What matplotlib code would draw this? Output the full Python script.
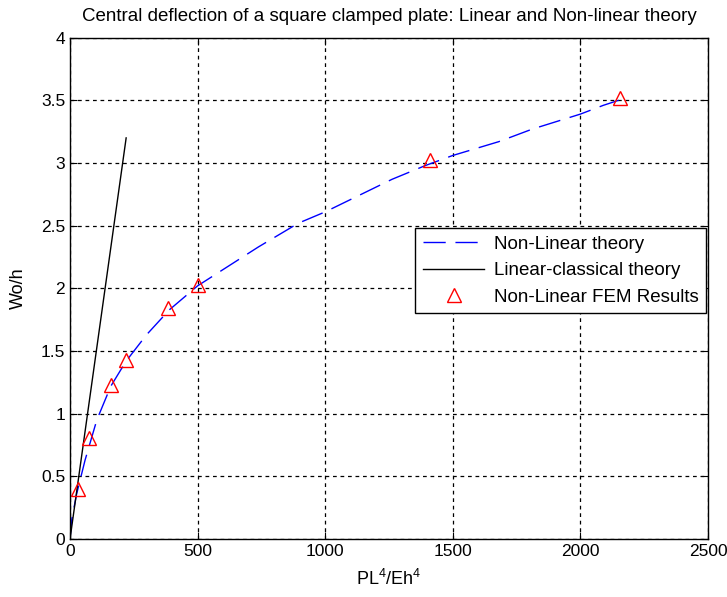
import matplotlib
matplotlib.use('Agg')
import matplotlib.pyplot as plt

plt.rcParams['font.family'] = ['Liberation Sans', 'DejaVu Sans']
plt.rcParams['mathtext.default'] = 'regular'

# non-linear theory curve
nl_x = [0, 7, 26, 59, 105, 160, 220, 300, 390, 500, 738, 895, 1000, 1262, 1393, 1500, 1680, 1811, 2000, 2090, 2150]
nl_y = [0, 0.16, 0.36, 0.63, 0.95, 1.22, 1.42, 1.63, 1.83, 2.02, 2.33, 2.52, 2.61, 2.87, 2.98, 3.06, 3.17, 3.27, 3.39, 3.46, 3.5]

# linear classical theory
lin_x = [0, 220]
lin_y = [0, 3.2]

# FEM results
fem_x = [31, 76, 161, 219, 385, 500, 1410, 2155]
fem_y = [0.40, 0.81, 1.23, 1.43, 1.84, 2.03, 3.02, 3.52]

fig = plt.figure(figsize=(7.27, 5.97), dpi=100)
ax = fig.add_axes([0.0963, 0.097, 0.8776, 0.84])

ax.plot(nl_x, nl_y, color='blue', lw=1, dashes=(16, 7), label='Non-Linear theory')
ax.plot(lin_x, lin_y, color='black', lw=1, label='Linear-classical theory')
ax.plot(fem_x, fem_y, linestyle='none', marker='^', markersize=10, markerfacecolor='none',
        markeredgecolor='red', markeredgewidth=1, label='Non-Linear FEM Results')

ax.set_xlim(0, 2500)
ax.set_ylim(0, 4)
ax.set_xticks([0, 500, 1000, 1500, 2000, 2500])
ax.set_yticks([0, 0.5, 1, 1.5, 2, 2.5, 3, 3.5, 4])
ax.set_yticklabels(['0', '0.5', '1', '1.5', '2', '2.5', '3', '3.5', '4'])
ax.grid(True, color='black', linestyle=(0, (3, 3)), lw=0.9)
ax.tick_params(direction='in', top=True, right=True, labelsize=12.5, length=5)
for s in ax.spines.values():
    s.set_linewidth(1)

ax.set_xlabel('PL$^4$/Eh$^4$', fontsize=13, labelpad=7)
ax.set_ylabel('Wo/h', fontsize=13, labelpad=10)
ax.set_title('Central deflection of a square clamped plate: Linear and Non-linear theory',
             fontsize=13.5, pad=12)

leg = ax.legend(loc='upper right', bbox_to_anchor=(0.997, 0.62), borderaxespad=0,
                fontsize=13.5, fancybox=False, edgecolor='black', framealpha=1,
                handlelength=3.3, handletextpad=0.5, labelspacing=0.5)
leg.get_frame().set_linewidth(1)

fig.savefig('out.png', dpi=100)
